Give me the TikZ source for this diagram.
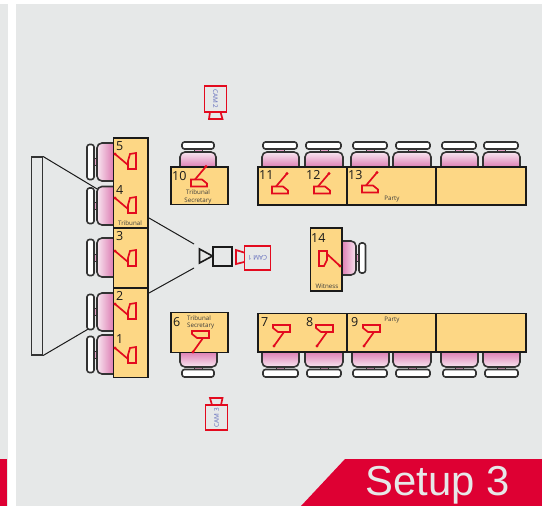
\documentclass[tikz,border=0pt]{standalone}
\usepackage{fontspec}
\setmainfont{Open Sans}
\newfontfamily\bannerfont{Liberation Sans}
\definecolor{bg}{HTML}{E6E8E8}
\definecolor{tablefill}{HTML}{FDD785}
\definecolor{micred}{HTML}{E30A1E}
\definecolor{bannerred}{HTML}{DE0033}
\definecolor{ink}{HTML}{1A1A1A}
\definecolor{chairline}{HTML}{333333}
\definecolor{camtext}{HTML}{5F69BC}
\definecolor{pinkdark}{HTML}{DE7FB4}
\definecolor{pinklight}{HTML}{F8E6F0}
\tikzset{
  x=1pt,y=-1pt,
  tablebox/.style={draw=ink,fill=tablefill,line width=1.9pt},
  backrest/.style={draw=chairline,fill=white,line width=1.6pt,rounded corners=2.5pt},
  linkbar/.style={draw=chairline,fill=pinkdark!70,line width=.8pt},
  seatline/.style={draw=chairline,line width=1.6pt,rounded corners=5pt},
  micline/.style={draw=micred,line width=1.7pt,line join=miter},
  cambox/.style={draw=micred,fill=bg,line width=1.7pt},
  camhead/.style={draw=ink,line width=1.6pt},
  sight/.style={draw=ink,line width=1pt},
  seatno/.style={inner sep=0pt,anchor=base west,text=ink,font=\fontsize{12.5}{14}\selectfont},
  tiny/.style={inner sep=0pt,text=ink!85,font=\fontsize{6.2}{7.2}\selectfont,align=center},
  camlabel/.style={inner sep=0pt,text=camtext,font=\fontsize{6.4}{7}\selectfont},
}
\newcommand{\chairTop}[4]{% seat left, seat right, back left, back right
  \path[linkbar] ({(#1+#2)/2-4},148) rectangle ({(#1+#2)/2+4},153);
  \draw[backrest] (#3,142) rectangle (#4,149);
  \path[seatline,top color=pinklight,bottom color=pinkdark] (#1,167) -- (#1,152) -- (#2,152) -- (#2,167);
}
\newcommand{\chairBottom}[4]{%
  \path[linkbar] ({(#1+#2)/2-4},366) rectangle ({(#1+#2)/2+4},370);
  \draw[backrest] (#3,369.5) rectangle (#4,377);
  \path[seatline,top color=pinkdark,bottom color=pinklight] (#1,352) -- (#1,367) -- (#2,367) -- (#2,352);
}
\newcommand{\chairLeft}[2]{% top, bottom of seat
  \path[linkbar] (93,{(#1+#2)/2-3.5}) rectangle (98,{(#1+#2)/2+3.5});
  \draw[backrest] (87,{#1+1.5}) rectangle (94,{#2-1.5});
  \path[seatline,left color=pinklight,right color=pinkdark] (113,#1) -- (97,#1) -- (97,#2) -- (113,#2);
}
\newcommand{\micTop}[2]{%
  \draw[micline] (#1,{#2+7}) -- (#1,#2) -- ({#1+11},#2) -- ({#1+16},{#2+4}) -- ({#1+16},{#2+7}) -- cycle;
  \draw[micline] ({#1+4},#2) -- ({#1+15},{#2-13});
  \fill[micred] ({#1+15},{#2-13}) circle (1.6);
}
\newcommand{\micBottom}[2]{%
  \draw[micline] (#1,#2) -- ({#1+17},#2) -- ({#1+17},{#2+7}) -- ({#1+5},{#2+7}) -- (#1,{#2+3}) -- cycle;
  \draw[micline] ({#1+11},{#2+7}) -- ({#1+1},{#2+21});
  \fill[micred] ({#1+1},{#2+21}) circle (1.6);
}
\newcommand{\micLeft}[1]{%
  \draw[micline] (128,{#1+16}) -- (128,{#1+8}) -- (130,{#1+1}) -- (136,#1) -- (136,{#1+16}) -- cycle;
  \draw[micline] (115,{#1+1}) -- (128,{#1+12});
  \fill[micred] (115,{#1+1}) circle (1.6);
}
\begin{document}
\begin{tikzpicture}
\useasboundingbox (0,0) rectangle (542,506);
% page panels
\fill[white] (0,0) rectangle (542,506);
\fill[bg] (0,4) rectangle (8,506);
\fill[bg] (16,4) rectangle (542,506);
\fill[bannerred] (0,459) rectangle (7,506);
\fill[bannerred] (345,459) -- (542,459) -- (542,506) -- (301,506) -- cycle;
\node[inner sep=0pt,anchor=base west,text=bg,font=\bannerfont\fontsize{41.8}{44}\selectfont] (setup) at (365.5,495) {Setup 3};

% screen and sight lines
\node[draw=chairline,line width=1.1pt,minimum width=11pt,minimum height=198pt,inner sep=0pt] (screen) at (37,256) {};
\coordinate (scrTop) at (screen.north east);
\coordinate (scrBot) at (screen.south east);
\coordinate (chairHi) at (98,189.5);
\coordinate (chairLo) at (90,328);
\coordinate (tribHi) at (149,218);
\coordinate (tribLo) at (149,293);
\coordinate (camHi) at (194,244);
\coordinate (camLo) at (194,268);
\draw[sight] (scrTop) -- (chairHi);
\draw[sight] (scrBot) -- (chairLo);
\draw[sight] (tribHi) -- (camHi);
\draw[sight] (tribLo) -- (camLo);

% left chairs
\chairLeft{143}{181}
\chairLeft{186.5}{225}
\chairLeft{238}{277}
\chairLeft{293}{331}
\chairLeft{335}{374}

% top chairs
\chairTop{180}{216}{182}{214}
\chairTop{262}{299}{263}{297}
\chairTop{305}{343}{306}{341}
\chairTop{351}{389}{353}{387}
\chairTop{393}{431}{396}{430}
\chairTop{441}{478}{442}{476}
\chairTop{483}{520}{484}{518}

% bottom chairs
\chairBottom{180}{217}{182}{214}
\chairBottom{262}{299}{263}{298}
\chairBottom{305}{343}{307}{341}
\chairBottom{352}{389}{353}{387}
\chairBottom{393}{431}{396}{430}
\chairBottom{441}{478}{443}{476}
\chairBottom{483}{520}{485}{518}

% witness chair
\path[linkbar] (355,254) rectangle (360,261);
\draw[backrest] (359,243) rectangle (365.5,273);
\path[seatline,left color=pinkdark,right color=pinklight] (342,241) -- (356,241) -- (356,275) -- (342,275);

% tables
\draw[tablebox] (113.5,138) rectangle (148,228);
\draw[tablebox] (113.5,228) rectangle (148,288);
\draw[tablebox] (113.5,288) rectangle (148,377.5);
\draw[tablebox] (171,167) rectangle (228,204.5);
\draw[tablebox] (171,312.5) rectangle (228,352.5);
\draw[tablebox] (258,167) rectangle (347,205);
\draw[tablebox] (347,167) rectangle (436,205);
\draw[tablebox] (436,167) rectangle (526,205);
\draw[tablebox] (258,313.5) rectangle (347,352);
\draw[tablebox] (347,313.5) rectangle (436,352);
\draw[tablebox] (436,313.5) rectangle (526,352);
\draw[tablebox] (310.5,228) rectangle (342,291);

% microphones
\micLeft{153}
\micLeft{197}
\micLeft{250}
\micLeft{303}
\micLeft{347}
\micTop{191}{179.5}
\micTop{272}{186.5}
\micTop{314}{186.5}
\micTop{362}{185.5}
\micBottom{192}{331}
\micBottom{273}{325}
\micBottom{316}{325}
\micBottom{363}{325}
\draw[micline] (319,251) -- (327,251) -- (327,260) -- (324,266) -- (319,266) -- cycle;
\draw[micline] (327,254) -- (340,266);
\fill[micred] (340,266) circle (1.6);

% seat numbers
\node[seatno] (n5) at (116,150) {5};
\node[seatno] (n4) at (116,194) {4};
\node[seatno] (n3) at (116,240.5) {3};
\node[seatno] (n2) at (116,300) {2};
\node[seatno] (n1) at (116,343) {1};
\node[seatno] (n10) at (172,180) {10};
\node[seatno] (n6) at (173,326) {6};
\node[seatno] (n7) at (261,326) {7};
\node[seatno] (n8) at (306,326) {8};
\node[seatno] (n9) at (351,326) {9};
\node[seatno] (n11) at (259,179.5) {11};
\node[seatno] (n12) at (306,179.5) {12};
\node[seatno] (n13) at (348,179.5) {13};
\node[seatno] (n14) at (311,242) {14};

% small labels
\node[tiny] (lt) at (130,223) {Tribunal};
\node[tiny] (lsa) at (198,192) {Tribunal};
\node[tiny] (lsb) at (198,201) {Secretary};
\node[tiny,anchor=west] (lsc) at (187,318) {Tribunal};
\node[tiny,anchor=west] (lsd) at (187,325.5) {Secretary};
\node[tiny] (lpa) at (392,199.5) {Party};
\node[tiny] (lpb) at (392,320) {Party};
\node[tiny] (lw) at (327,286) {Witness};

% central camera
\draw[camhead] (199.5,249) -- (212.5,256) -- (199.5,263) -- cycle;
\node[camhead,minimum width=19pt,minimum height=19pt,inner sep=0pt] (cam0) at (222.5,256.5) {};

% CAM 1
\draw[micline] (244,252.5) -- (236,250) -- (236,264) -- (244,262);
\node[cambox,minimum width=26pt,minimum height=24pt,inner sep=0pt] (cam1) at (257.5,258) {};
\node[camlabel,rotate=180] (t1) at (cam1) {CAM 1};
% CAM 2
\draw[micline] (210,112) -- (209,119) -- (222.5,119) -- (220.5,112);
\node[cambox,minimum width=22pt,minimum height=25.5pt,inner sep=0pt] (cam2) at (215.5,99) {};
\node[camlabel,rotate=-90] (t2) at (cam2) {CAM 2};
% CAM 3
\draw[micline] (212,405) -- (210,398) -- (222.5,398) -- (221,405);
\node[cambox,minimum width=22pt,minimum height=25pt,inner sep=0pt] (cam3) at (216.5,417.5) {};
\node[camlabel,rotate=90] (t3) at (cam3) {CAM 3};
\end{tikzpicture}
\end{document}
